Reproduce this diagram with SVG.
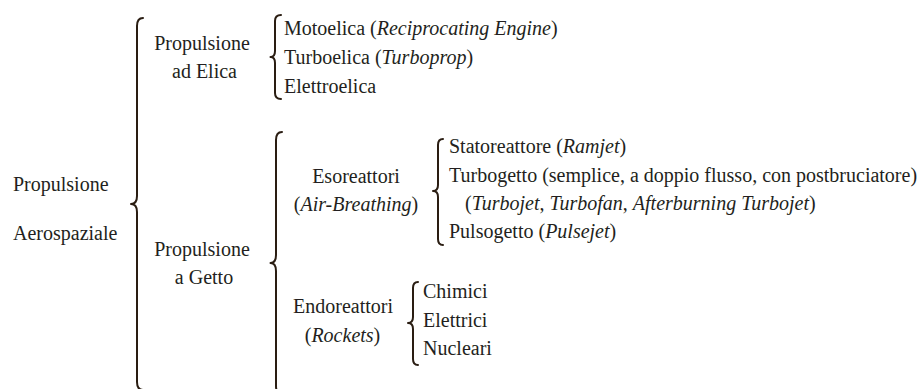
<svg xmlns="http://www.w3.org/2000/svg" width="918" height="389" viewBox="0 0 918 389">
<style>
text{font-family:"Liberation Serif","Times New Roman",serif;font-size:20px;fill:#231f20}
.c{text-anchor:middle}
.i{font-style:italic}
.b{fill:none;stroke:#2a1d12;stroke-width:2;stroke-linecap:round;stroke-linejoin:round}
</style>
<rect width="918" height="389" fill="#fff"/>
<g id="connectors">
<path class="b" d="M143,18 Q137,18 137,26 L137,196 Q137,204 131,204 Q137,204 137,212 L137,382 Q137,390 143,390"/>
<path class="b" d="M281,15 Q275,15 275,21 L275,51 Q275,57 270.5,57 Q275,57 275,63 L275,93 Q275,99 281,99"/>
<path class="b" d="M282,132 Q276,132 276,140 L276,255 Q276,263 270.5,263 Q276,263 276,271 L276,386 Q276,394 282,394"/>
<path class="b" d="M443,139 Q438,139 438,145 L438,185 Q438,191 433,191 Q438,191 438,197 L438,239 Q438,245 443,245"/>
<path class="b" d="M418,282 Q413,282 413,288 L413,317 Q413,323 408,323 Q413,323 413,329 L413,359 Q413,365 418,365"/>
</g>
<g id="root">
<text x="13" y="191">Propulsione</text>
<text x="13" y="240">Aerospaziale</text>
</g>
<g id="elica">
<text class="c" x="202" y="49.5">Propulsione</text>
<text class="c" x="204.5" y="78">ad Elica</text>
</g>
<g id="elica-types">
<text x="284" y="35">Motoelica (<tspan class="i">Reciprocating Engine</tspan>)</text>
<text x="284" y="64">Turboelica (<tspan class="i">Turboprop</tspan>)</text>
<text x="284" y="93">Elettroelica</text>
</g>
<g id="getto">
<text class="c" x="202" y="256">Propulsione</text>
<text class="c" x="204" y="284">a Getto</text>
</g>
<g id="esoreattori">
<text class="c" x="356" y="183">Esoreattori</text>
<text class="c" x="356" y="211">(<tspan class="i">Air-Breathing</tspan>)</text>
</g>
<g id="eso-types">
<text x="449" y="153">Statoreattore (<tspan class="i">Ramjet</tspan>)</text>
<text x="449" y="181.5">Turbogetto (semplice, a doppio flusso, con postbruciatore)</text>
<text x="465" y="210">(<tspan class="i">Turbojet</tspan>, <tspan class="i">Turbofan</tspan>, <tspan class="i">Afterburning Turbojet</tspan>)</text>
<text x="449" y="238">Pulsogetto (<tspan class="i">Pulsejet</tspan>)</text>
</g>
<g id="endoreattori">
<text class="c" x="343" y="313">Endoreattori</text>
<text class="c" x="342.5" y="341.5">(<tspan class="i">Rockets</tspan>)</text>
</g>
<g id="endo-types">
<text x="423" y="298">Chimici</text>
<text x="423" y="326.5">Elettrici</text>
<text x="423" y="355">Nucleari</text>
</g>
</svg>
